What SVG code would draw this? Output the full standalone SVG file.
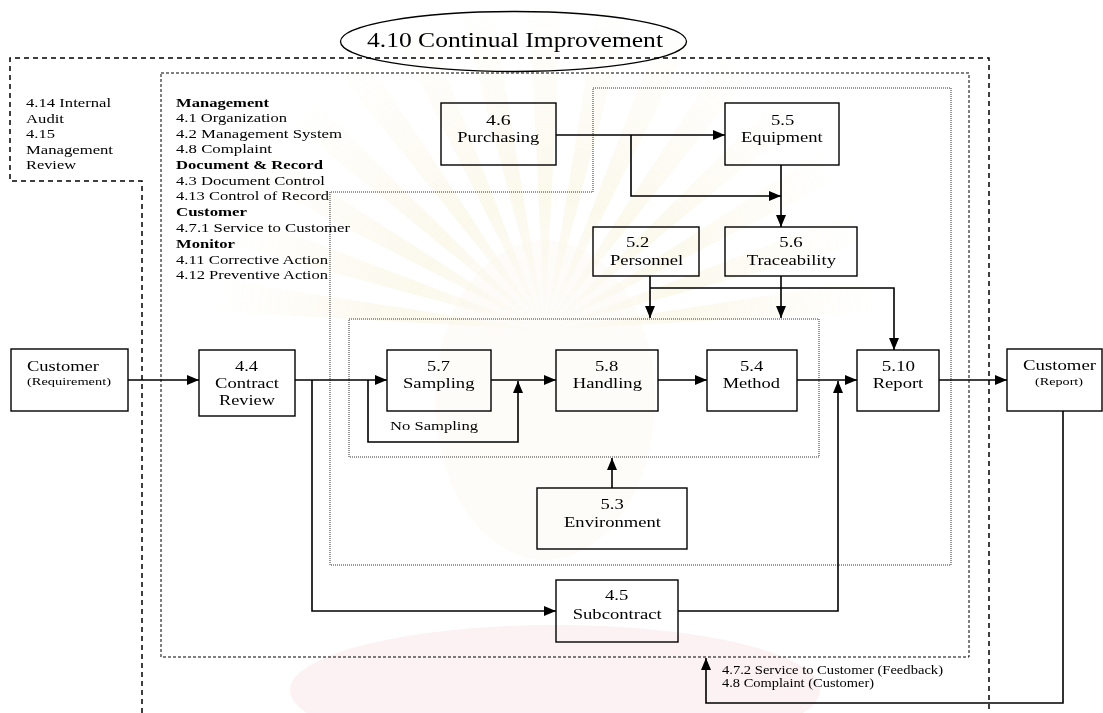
<svg xmlns="http://www.w3.org/2000/svg" xmlns:xlink="http://www.w3.org/1999/xlink" width="1103" height="713" viewBox="0 0 1103 713">
  <style>
    text { font-family: "Liberation Serif", "Times New Roman", serif; fill: #000; }
    .lbl { font-size: 15px; }
    .side { font-size: 13px; }
    .sm { font-size: 11.5px; }
    .b { font-weight: bold; }
    .box { fill: none; stroke: #000; stroke-width: 1.4; }
    .wire { fill: none; stroke: #000; stroke-width: 1.6; marker-end: url(#ah); }
    .bound1 { fill: none; stroke: #000; stroke-width: 1.5; stroke-dasharray: 5 4; }
    .bound2 { fill: none; stroke: #000; stroke-width: 1; stroke-dasharray: 3 2; }
    .bound3 { fill: none; stroke: #333; stroke-width: 1; stroke-dasharray: 1 1; }
  </style>
  <defs>
    <marker id="ah" markerWidth="12" markerHeight="10" refX="12" refY="5" orient="auto" markerUnits="userSpaceOnUse">
      <path d="M0,0 L12,5 L0,10 Z" fill="#000"/>
    </marker>
    <linearGradient id="rayFade" x1="0" y1="1" x2="0" y2="0">
      <stop offset="0" stop-color="#f2e6b8" stop-opacity="0"/>
      <stop offset="0.4" stop-color="#f2e6b8" stop-opacity="0.45"/>
      <stop offset="1" stop-color="#f2e6b8" stop-opacity="0"/>
    </linearGradient>
    <path id="ray" d="M0,0 L-16,-330 L16,-330 Z" fill="url(#rayFade)"/>
  </defs>

  <rect width="1103" height="713" fill="#fff"/>

  <!-- faint background emblem -->
  <g id="emblem" opacity="0.6">
    <g transform="translate(545,330)">
      <use xlink:href="#ray" transform="rotate(-84)"/>
      <use xlink:href="#ray" transform="rotate(-72)"/>
      <use xlink:href="#ray" transform="rotate(-60)"/>
      <use xlink:href="#ray" transform="rotate(-48)"/>
      <use xlink:href="#ray" transform="rotate(-36)"/>
      <use xlink:href="#ray" transform="rotate(-24)"/>
      <use xlink:href="#ray" transform="rotate(-12)"/>
      <use xlink:href="#ray" transform="rotate(0)"/>
      <use xlink:href="#ray" transform="rotate(12)"/>
      <use xlink:href="#ray" transform="rotate(24)"/>
      <use xlink:href="#ray" transform="rotate(36)"/>
      <use xlink:href="#ray" transform="rotate(48)"/>
      <use xlink:href="#ray" transform="rotate(60)"/>
      <use xlink:href="#ray" transform="rotate(72)"/>
      <use xlink:href="#ray" transform="rotate(84)"/>
    </g>
    <ellipse cx="545" cy="400" rx="110" ry="160" fill="#f3ebd2" opacity="0.25"/>
    <ellipse cx="555" cy="690" rx="265" ry="65" fill="#f7dde3" opacity="0.7"/>
  </g>

  <!-- boundaries -->
  <g id="boundaries">
    <path class="bound1" d="M142 713 V181 H10 V58 H989 V713"/>
    <rect class="bound2" x="161" y="73" width="808" height="584"/>
    <path class="bound3" d="M593 88 H951 V565 H330 V192 H593 Z"/>
    <rect class="bound3" x="349" y="319" width="470" height="138"/>
  </g>

  <!-- title -->
  <g id="title">
    <ellipse cx="513.5" cy="41.5" rx="173" ry="30" fill="none" stroke="#000" stroke-width="1.3"/>
    <text x="367" y="46.5" font-size="22" textLength="296" lengthAdjust="spacingAndGlyphs">4.10 Continual Improvement</text>
  </g>

  <!-- side notes -->
  <g id="audit-note" class="side">
    <text x="26" y="107" textLength="85" lengthAdjust="spacingAndGlyphs">4.14 Internal</text>
    <text x="26" y="122.5" textLength="38" lengthAdjust="spacingAndGlyphs">Audit</text>
    <text x="26" y="138" textLength="29" lengthAdjust="spacingAndGlyphs">4.15</text>
    <text x="26" y="153.5" textLength="87" lengthAdjust="spacingAndGlyphs">Management</text>
    <text x="26" y="169" textLength="50" lengthAdjust="spacingAndGlyphs">Review</text>
  </g>
  <g id="management-note" class="side">
    <text x="176" y="106.5" class="b" textLength="93" lengthAdjust="spacingAndGlyphs">Management</text>
    <text x="176" y="122" textLength="111" lengthAdjust="spacingAndGlyphs">4.1 Organization</text>
    <text x="176" y="137.7" textLength="166" lengthAdjust="spacingAndGlyphs">4.2 Management System</text>
    <text x="176" y="153.3" textLength="96" lengthAdjust="spacingAndGlyphs">4.8 Complaint</text>
    <text x="176" y="169" class="b" textLength="147" lengthAdjust="spacingAndGlyphs">Document &amp; Record</text>
    <text x="176" y="184.7" textLength="149" lengthAdjust="spacingAndGlyphs">4.3 Document Control</text>
    <text x="176" y="200.3" textLength="153" lengthAdjust="spacingAndGlyphs">4.13 Control of Record</text>
    <text x="176" y="216" class="b" textLength="71" lengthAdjust="spacingAndGlyphs">Customer</text>
    <text x="176" y="232" textLength="174" lengthAdjust="spacingAndGlyphs">4.7.1 Service to Customer</text>
    <text x="176" y="248" class="b" textLength="59" lengthAdjust="spacingAndGlyphs">Monitor</text>
    <text x="176" y="263.5" textLength="152" lengthAdjust="spacingAndGlyphs">4.11 Corrective Action</text>
    <text x="176" y="279.2" textLength="152" lengthAdjust="spacingAndGlyphs">4.12 Preventive Action</text>
  </g>

  <!-- connectors -->
  <g id="connectors">
    <path class="wire" d="M128 380 H199"/>
    <path class="wire" d="M295 380 H387"/>
    <path class="wire" d="M312 380 V611 H556"/>
    <path class="wire" d="M368 380 V442 H518 V381"/>
    <path class="wire" d="M491 380 H556"/>
    <path class="wire" d="M658 380 H707"/>
    <path class="wire" d="M797 380 H857"/>
    <path class="wire" d="M678 611 H838 V381"/>
    <path class="wire" d="M939 380 H1007"/>
    <path class="wire" d="M1063 411 V703 H706 V658"/>
    <path class="wire" d="M612 488 V458"/>
    <path class="wire" d="M556 135 H725"/>
    <path class="wire" d="M631 135 V196 H781"/>
    <path class="wire" d="M781 165 V227"/>
    <path class="wire" d="M650 276 V318"/>
    <path class="wire" d="M650 288 H894 V350"/>
    <path class="wire" d="M781 276 V318"/>
  </g>

  <!-- nodes -->
  <g id="customer-in">
    <rect class="box" x="11" y="349" width="117" height="62"/>
    <text x="27" y="371" class="lbl" textLength="72" lengthAdjust="spacingAndGlyphs">Customer</text>
    <text x="27" y="385" font-size="11" textLength="84" lengthAdjust="spacingAndGlyphs">(Requirement)</text>
  </g>
  <g id="contract-review" class="lbl">
    <rect class="box" x="199" y="350" width="96" height="66"/>
    <text x="235" y="371" textLength="23" lengthAdjust="spacingAndGlyphs">4.4</text>
    <text x="215" y="387.5" textLength="64" lengthAdjust="spacingAndGlyphs">Contract</text>
    <text x="219" y="405" textLength="56" lengthAdjust="spacingAndGlyphs">Review</text>
  </g>
  <g id="sampling" class="lbl">
    <rect class="box" x="387" y="350" width="104" height="61"/>
    <text x="427" y="371" textLength="23" lengthAdjust="spacingAndGlyphs">5.7</text>
    <text x="403" y="387.5" textLength="71.5" lengthAdjust="spacingAndGlyphs">Sampling</text>
  </g>
  <text id="no-sampling" x="390" y="430" class="side" textLength="88" lengthAdjust="spacingAndGlyphs">No Sampling</text>
  <g id="handling" class="lbl">
    <rect class="box" x="556" y="350" width="102" height="61"/>
    <text x="595" y="371" textLength="23.3" lengthAdjust="spacingAndGlyphs">5.8</text>
    <text x="572.7" y="387.5" textLength="69.3" lengthAdjust="spacingAndGlyphs">Handling</text>
  </g>
  <g id="method" class="lbl">
    <rect class="box" x="707" y="350" width="90" height="61"/>
    <text x="740" y="371" textLength="23.3" lengthAdjust="spacingAndGlyphs">5.4</text>
    <text x="722.7" y="387.5" textLength="57.3" lengthAdjust="spacingAndGlyphs">Method</text>
  </g>
  <g id="report" class="lbl">
    <rect class="box" x="857" y="350" width="82" height="61"/>
    <text x="881.7" y="371" textLength="33.3" lengthAdjust="spacingAndGlyphs">5.10</text>
    <text x="872.7" y="387.5" textLength="50.6" lengthAdjust="spacingAndGlyphs">Report</text>
  </g>
  <g id="customer-out">
    <rect class="box" x="1007" y="349" width="95" height="62"/>
    <text x="1023" y="370" class="lbl" textLength="73" lengthAdjust="spacingAndGlyphs">Customer</text>
    <text x="1035" y="385" font-size="11" textLength="48" lengthAdjust="spacingAndGlyphs">(Report)</text>
  </g>
  <g id="purchasing" class="lbl">
    <rect class="box" x="441" y="103" width="115" height="62"/>
    <text x="486" y="125" textLength="24.7" lengthAdjust="spacingAndGlyphs">4.6</text>
    <text x="457.3" y="142" textLength="82" lengthAdjust="spacingAndGlyphs">Purchasing</text>
  </g>
  <g id="equipment" class="lbl">
    <rect class="box" x="725" y="103" width="114" height="62"/>
    <text x="771" y="125" textLength="23.3" lengthAdjust="spacingAndGlyphs">5.5</text>
    <text x="741" y="142" textLength="81.7" lengthAdjust="spacingAndGlyphs">Equipment</text>
  </g>
  <g id="personnel" class="lbl">
    <rect class="box" x="593" y="227" width="106" height="49"/>
    <text x="626" y="247" textLength="23.3" lengthAdjust="spacingAndGlyphs">5.2</text>
    <text x="610" y="265" textLength="73.3" lengthAdjust="spacingAndGlyphs">Personnel</text>
  </g>
  <g id="traceability" class="lbl">
    <rect class="box" x="725" y="227" width="132" height="49"/>
    <text x="779.3" y="247" textLength="23.4" lengthAdjust="spacingAndGlyphs">5.6</text>
    <text x="746.7" y="265" textLength="89.3" lengthAdjust="spacingAndGlyphs">Traceability</text>
  </g>
  <g id="environment" class="lbl">
    <rect class="box" x="537" y="488" width="150" height="61"/>
    <text x="600.5" y="509" textLength="23.3" lengthAdjust="spacingAndGlyphs">5.3</text>
    <text x="564" y="527" textLength="97" lengthAdjust="spacingAndGlyphs">Environment</text>
  </g>
  <g id="subcontract" class="lbl">
    <rect class="box" x="556" y="580" width="122" height="62"/>
    <text x="605" y="600" textLength="23.3" lengthAdjust="spacingAndGlyphs">4.5</text>
    <text x="572.7" y="619" textLength="89" lengthAdjust="spacingAndGlyphs">Subcontract</text>
  </g>
  <g id="feedback-note" class="sm">
    <text x="722" y="674" textLength="221" lengthAdjust="spacingAndGlyphs">4.7.2 Service to Customer (Feedback)</text>
    <text x="722" y="687" textLength="152" lengthAdjust="spacingAndGlyphs">4.8 Complaint (Customer)</text>
  </g>
</svg>
